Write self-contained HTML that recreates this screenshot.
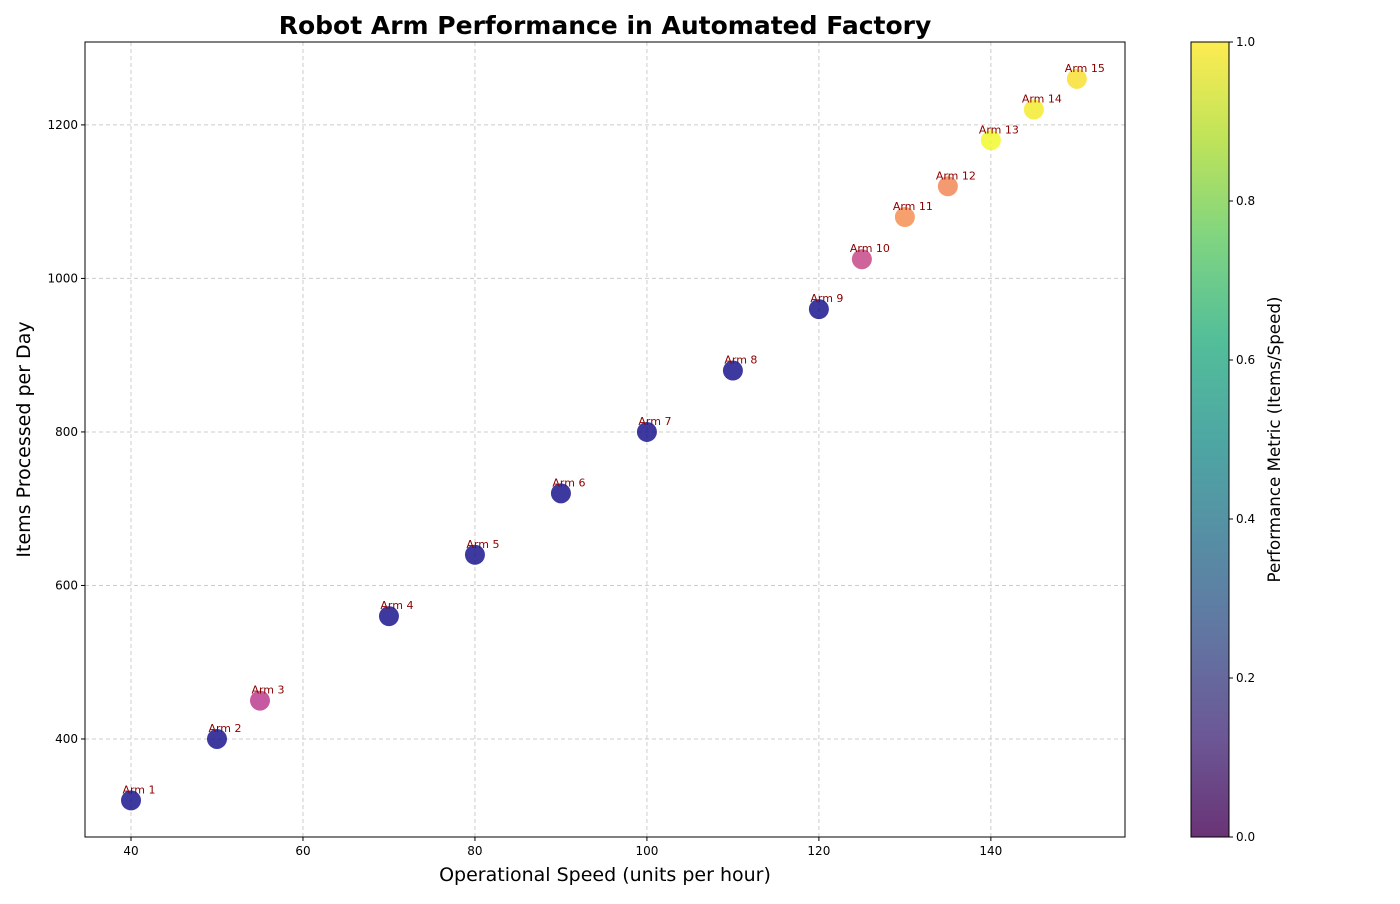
<!DOCTYPE html>
<html><head><meta charset="utf-8"><style>
body{margin:0;background:#fff;font-family:"DejaVu Sans","Liberation Sans",sans-serif;}
svg text{font-family:"DejaVu Sans","Liberation Sans",sans-serif;}
</style></head><body>
<svg id="c" width="1400" height="900" xmlns="http://www.w3.org/2000/svg">
<defs>
<linearGradient id="vir" x1="0" y1="1" x2="0" y2="0">
<stop offset="0" stop-color="#440154"/><stop offset="0.125" stop-color="#472d7b"/><stop offset="0.25" stop-color="#3b528b"/><stop offset="0.375" stop-color="#2c728e"/><stop offset="0.5" stop-color="#21918c"/><stop offset="0.625" stop-color="#28ae80"/><stop offset="0.75" stop-color="#5ec962"/><stop offset="0.875" stop-color="#addc30"/><stop offset="1" stop-color="#fde725"/>
</linearGradient>
</defs>
</svg>
<script>
const arms=["Arm 1","Arm 2","Arm 3","Arm 4","Arm 5","Arm 6","Arm 7","Arm 8","Arm 9","Arm 10","Arm 11","Arm 12","Arm 13","Arm 14","Arm 15"];
const speed=[40,50,55,70,80,90,100,110,120,125,130,135,140,145,150];
const items=[320,400,450,560,640,720,800,880,960,1025,1080,1120,1180,1220,1260];
const xTicks=[40,60,80,100,120,140];
const yTicks=[400,600,800,1000,1200];
const cTicks=["0.0","0.2","0.4","0.6","0.8","1.0"];
const L=85,R=1125,T=42,B=837;
const xMin=34.65,xMax=155.6,yMin=272.3,yMax=1308;
const X=v=>L+(v-xMin)/(xMax-xMin)*(R-L);
const Y=v=>B-(v-yMin)/(yMax-yMin)*(B-T);
const svg=document.getElementById('c');
const NS="http://www.w3.org/2000/svg";
function mk(t,a,p){const e=document.createElementNS(NS,t);for(const k in a)e.setAttribute(k,a[k]);(p||svg).appendChild(e);return e;}
const plasma=[[13,8,135],[84,2,163],[139,10,165],[185,50,137],[219,92,104],[244,136,73],[254,188,43],[240,249,33]];
function pc(t){t=Math.max(0,Math.min(1,t))*(plasma.length-1);const i=Math.min(Math.floor(t),plasma.length-2),f=t-i;const c=plasma[i].map((v,k)=>Math.round(v+(plasma[i+1][k]-v)*f));return `rgb(${c})`;}
xTicks.forEach(v=>{const l=mk('line',{x1:X(v),x2:X(v),y1:T,y2:B,stroke:'#ccc','stroke-dasharray':'4,3'});});
yTicks.forEach(v=>{const l=mk('line',{x1:L,x2:R,y1:Y(v),y2:Y(v),stroke:'#ccc','stroke-dasharray':'4,3'});});
const frame=mk('rect',{x:L,y:T,width:R-L,height:B-T,fill:'none',stroke:'#000'});

xTicks.forEach(v=>{mk('line',{x1:X(v),x2:X(v),y1:B,y2:B+4,stroke:'#000'});const t=mk('text',{x:X(v),y:B+18,'text-anchor':'middle','font-size':12});t.textContent=v;});
yTicks.forEach(v=>{mk('line',{x1:L-4,x2:L,y1:Y(v),y2:Y(v),stroke:'#000'});const t=mk('text',{x:L-7,y:Y(v)+4,'text-anchor':'end','font-size':12});t.textContent=v;});
const metric=speed.map((s,i)=>items[i]/s);
const mMin=Math.min(...metric),mMax=Math.max(...metric);
speed.forEach((s,i)=>{
 const c=mk('circle',{cx:X(s),cy:Y(items[i]),r:10,fill:pc((metric[i]-mMin)/(mMax-mMin)),'fill-opacity':0.8});
 
 const t=mk('text',{x:X(s)+8,y:Y(items[i])-7,'text-anchor':'middle','font-size':11,fill:'#8b0000'});t.textContent=arms[i];
 
});
let t=mk('text',{x:(L+R)/2,y:34,'text-anchor':'middle','font-size':25,'font-weight':'bold'});t.textContent="Robot Arm Performance in Automated Factory";
t=mk('text',{x:(L+R)/2,y:881,'text-anchor':'middle','font-size':19});t.textContent="Operational Speed (units per hour)";
t=mk('text',{x:0,y:0,'text-anchor':'middle','font-size':19,transform:`translate(30,${(T+B)/2}) rotate(-90)`});t.textContent="Items Processed per Day";
const cb=mk('rect',{x:1191,y:T,width:38,height:B-T,fill:'url(#vir)','fill-opacity':0.8,stroke:'#000'});

cTicks.forEach((v,i)=>{const y=B-i*(B-T)/5;mk('line',{x1:1229,x2:1233,y1:y,y2:y,stroke:'#000'});const tt=mk('text',{x:1236,y:y+4,'font-size':12});tt.textContent=v;});
t=mk('text',{x:0,y:0,'text-anchor':'middle','font-size':16.7,transform:`translate(1280,${(T+B)/2}) rotate(-90)`});t.textContent="Performance Metric (Items/Speed)";
</script>
</body></html>
